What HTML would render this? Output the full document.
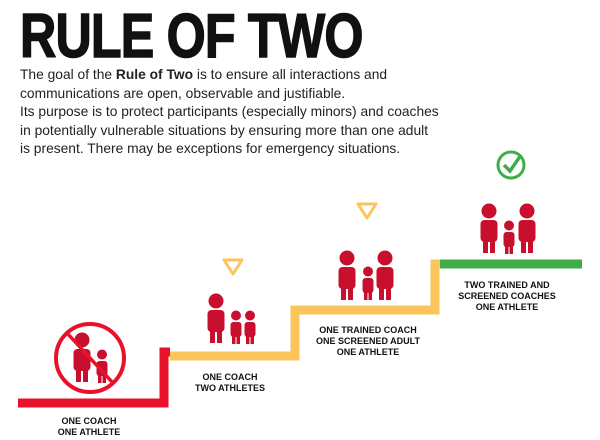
<!DOCTYPE html>
<html><head><meta charset="utf-8"><style>
body{margin:0;width:600px;height:440px;background:#fff;overflow:hidden;font-family:"Liberation Sans",sans-serif;position:relative}
h1{position:absolute;left:20px;top:6px;margin:0;font-size:62px;line-height:62px;font-weight:900;letter-spacing:-1px;color:#111;transform:scaleX(0.81);transform-origin:left;-webkit-text-stroke:1.5px #111}
p{position:absolute;left:20px;top:66px;margin:0;font-size:13.8px;line-height:18.5px;color:#222;width:580px}
.l{position:absolute;font-size:9px;font-weight:bold;text-align:center;line-height:11px;color:#111;transform:translateX(-50%);white-space:nowrap}
</style></head><body>
<h1>RULE OF TWO</h1>
<p>The goal of the <b>Rule of Two</b> is to ensure all interactions and<br>communications are open, observable and justifiable.<br>Its purpose is to protect participants (especially minors) and coaches<br>in potentially vulnerable situations by ensuring more than one adult<br>is present. There may be exceptions for emergency situations.</p>
<svg width="600" height="440" style="position:absolute;left:0;top:0">
<defs>
<g id="a" fill="#c8102e"><circle cx="9" cy="8" r="7.5"/><rect x="0.5" y="17" width="17" height="22" rx="4"/><rect x="3" y="32" width="5" height="18"/><rect x="10" y="32" width="5" height="18"/></g>
<g id="c" fill="#c8102e"><circle cx="6" cy="5.5" r="5"/><rect x="0.5" y="12" width="11" height="15" rx="3"/><rect x="2" y="22" width="3.5" height="12"/><rect x="6.5" y="22" width="3.5" height="12"/></g>
</defs>
<polyline points="18,403 164,403 164,352 170,352" fill="none" stroke="#e8132b" stroke-width="9"/>
<polyline points="170,356 295,356 295,310 435,310 435,264 440,264" fill="none" stroke="#fcc55c" stroke-width="9"/>
<line x1="440" y1="264" x2="582" y2="264" stroke="#3fae49" stroke-width="9"/>
<circle cx="90" cy="358" r="34" fill="none" stroke="#e8132b" stroke-width="4"/>
<use href="#a" x="73" y="332"/><use href="#c" x="96" y="349"/>
<line x1="67" y1="333" x2="113" y2="383" stroke="#e8132b" stroke-width="3.5"/>
<use href="#a" x="207" y="293"/><use href="#c" x="230" y="310"/><use href="#c" x="244" y="310"/>
<use href="#a" x="338" y="250"/><use href="#c" x="362" y="266"/><use href="#a" x="376" y="250"/>
<use href="#a" x="480" y="203"/><use href="#c" x="503" y="220"/><use href="#a" x="518" y="203"/>
<polygon points="224,260 242,260 233,274" fill="none" stroke="#fcc55c" stroke-width="3" stroke-linejoin="round"/>
<polygon points="358,204 376,204 367,218" fill="none" stroke="#fcc55c" stroke-width="3" stroke-linejoin="round"/>
<circle cx="511" cy="165" r="13" fill="none" stroke="#3fae49" stroke-width="3"/>
<polyline points="504,165 510,171 521,155" fill="none" stroke="#3fae49" stroke-width="3.5"/>
</svg>
<div class="l" style="left:89px;top:416px">ONE COACH<br>ONE ATHLETE</div>
<div class="l" style="left:230px;top:372px">ONE COACH<br>TWO ATHLETES</div>
<div class="l" style="left:368px;top:325px">ONE TRAINED COACH<br>ONE SCREENED ADULT<br>ONE ATHLETE</div>
<div class="l" style="left:507px;top:280px">TWO TRAINED AND<br>SCREENED COACHES<br>ONE ATHLETE</div>
</body></html>
